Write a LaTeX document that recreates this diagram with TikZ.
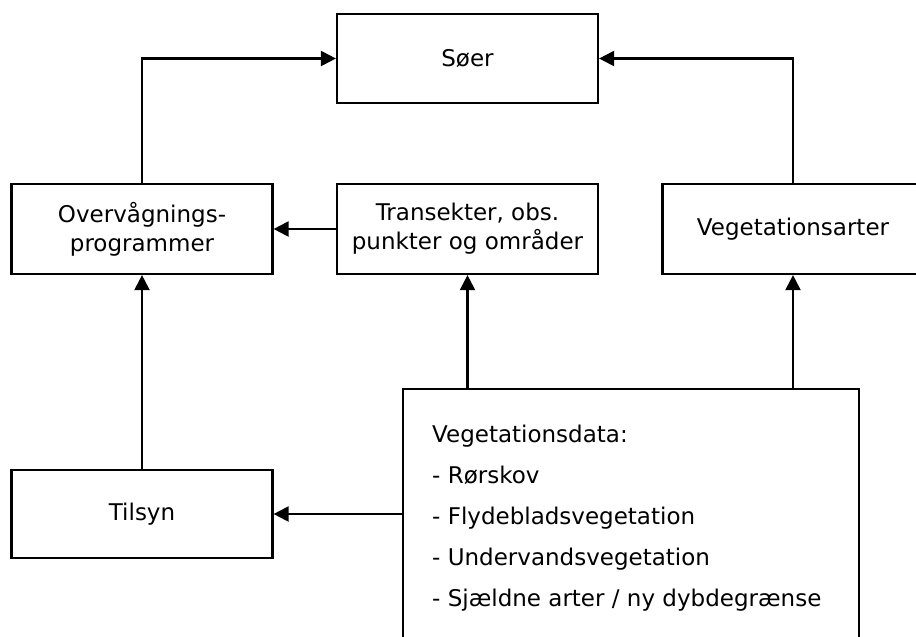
\documentclass[tikz,border=0pt]{standalone}
\usepackage{fontspec}
\setmainfont{DejaVu Sans}
\usetikzlibrary{arrows.meta}
\begin{document}
\begin{tikzpicture}[x=1pt,y=-1pt,
  box/.style={draw=black,line width=2.2pt,minimum width=261pt,minimum height=90pt,inner sep=0pt,align=center,
    font=\fontsize{23pt}{29pt}\selectfont},
  arr/.style={line width=2.2pt,-{Triangle[length=15pt,width=15pt]}},
  item/.style={anchor=base west,inner sep=0pt,font=\fontsize{23pt}{29pt}\selectfont}]
\useasboundingbox (0,0) rectangle (916,637);
\clip (0,0) rectangle (916,637);
\node[box,minimum height=89pt] (soer) at (467.5,58.5) {Søer};
\node[box] (over) at (142,229) {Overvågnings-\\programmer};
\node[box] (trans) at (467.5,229) {Transekter, obs.\\punkter og områder};
\node[box] (veg) at (793,229) {Vegetationsarter};
\node[box,minimum height=88pt] (tilsyn) at (142,514) {Tilsyn};
\node[box,minimum width=456pt,minimum height=260pt] (data) at (631,519) {};
\node[item] (d0) at (432,442) {Vegetationsdata:};
\node[item] (d1) at (432,483) {- Rørskov};
\node[item] (d2) at (432,524) {- Flydebladsvegetation};
\node[item] (d3) at (432,565) {- Undervandsvegetation};
\node[item] (d4) at (432,606) {- Sjældne arter / ny dybdegrænse};
\draw[arr] (over.north) |- (soer.west);
\draw[arr] (veg.north) |- (soer.east);
\draw[arr] (trans.west) -- (over.east);
\draw[arr] (tilsyn.north) -- (over.south);
\draw[arr] (data.north -| trans.south) -- (trans.south);
\draw[arr] (data.north -| veg.south) -- (veg.south);
\draw[arr] (data.west |- tilsyn.east) -- (tilsyn.east);
\end{tikzpicture}
\end{document}
